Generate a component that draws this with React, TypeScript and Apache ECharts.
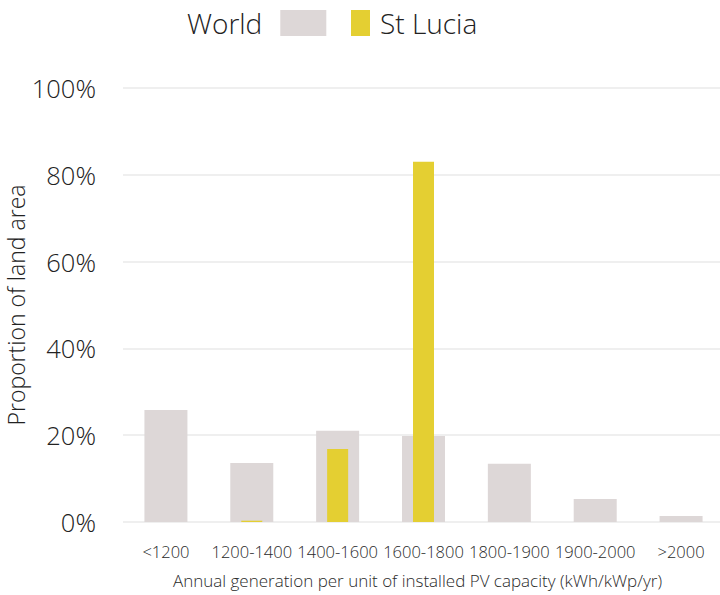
import React, { useEffect, useRef } from "react";
import * as echarts from "echarts";

const categories = ["<1200", "1200-1400", "1400-1600", "1600-1800", "1800-1900", "1900-2000", ">2000"];
const worldValues = [25.8, 13.6, 21.0, 19.8, 13.4, 5.3, 1.4];
const stLuciaValues = [0, 0.3, 16.8, 83.0, 0, 0, 0];
const yTicks = [0, 20, 40, 60, 80, 100];

const FONT = "Open Sans";
const TEXT = "#222";

export default function App() {
  const ref = useRef<HTMLDivElement>(null);
  useEffect(() => {
    if (!ref.current) return;
    const chart = echarts.init(ref.current, undefined, { renderer: "svg" });
    chart.setOption({
      animation: false,
      textStyle: { fontFamily: FONT },
      legend: [
        {
          data: ["World"],
          left: 187,
          top: 9,
          padding: 0,
          icon: "rect",
          itemWidth: 46,
          itemHeight: 26,
          align: "right",
          selectedMode: false,
          textStyle: { fontSize: 28, color: TEXT, fontFamily: FONT, fontWeight: 300, padding: [0, 13, 0, 0] },
        },
        {
          data: ["St Lucia"],
          left: 351,
          top: 9,
          padding: 0,
          icon: "rect",
          itemWidth: 19,
          itemHeight: 26,
          selectedMode: false,
          textStyle: { fontSize: 28, color: TEXT, fontFamily: FONT, fontWeight: 300, padding: [0, 0, 0, 5] },
        },
      ],
      grid: { left: 123, width: 601, top: 88, bottom: 73, containLabel: false, outerBoundsMode: "none" },
      xAxis: [
        {
          type: "category",
          data: categories,
          axisLine: { show: false },
          axisTick: { show: false },
          axisLabel: { color: "#2a2a2a", fontSize: 16.5, margin: 21, fontFamily: FONT, fontWeight: 300, interval: 0 },
          name: "Annual generation per unit of installed PV capacity (kWh/kWp/yr)",
          nameLocation: "middle",
          nameGap: 50,
          nameMoveOverlap: false,
          nameTextStyle: { color: "#2a2a2a", fontSize: 17, fontFamily: FONT, fontWeight: 300, padding: [0, 12, 0, 0] },
        },
        {
          type: "category",
          data: categories,
          show: false,
        },
      ],
      yAxis: {
        type: "value",
        min: 0,
        max: 100,
        interval: 20,
        axisLine: { show: false },
        axisTick: { show: false },
        splitLine: { lineStyle: { color: "#efefef", width: 2 } },
        axisLabel: {
          color: "#222",
          fontSize: 25.5,
          margin: 27,
          fontFamily: FONT,
          fontWeight: 300,
          formatter: (v: number) => (yTicks.includes(v) ? v + "%" : ""),
        },
        name: "Proportion of land area",
        nameLocation: "middle",
        nameGap: 96,
        nameMoveOverlap: false,
        nameTextStyle: { color: TEXT, fontSize: 23, fontFamily: FONT, fontWeight: 300 },
      },
      series: [
        {
          name: "World",
          type: "bar",
          xAxisIndex: 0,
          data: worldValues,
          barWidth: 43,
          itemStyle: { color: "#ddd7d7" },
        },
        {
          name: "St Lucia",
          type: "bar",
          xAxisIndex: 1,
          data: stLuciaValues,
          barWidth: 21,
          itemStyle: { color: "#e4cf32" },
        },
      ],
    });
    return () => chart.dispose();
  }, []);
  return (
    <div
      ref={ref}
      style={{ position: "fixed", left: 0, top: 0, width: 720, height: 595, background: "#fff" }}
    />
  );
}
